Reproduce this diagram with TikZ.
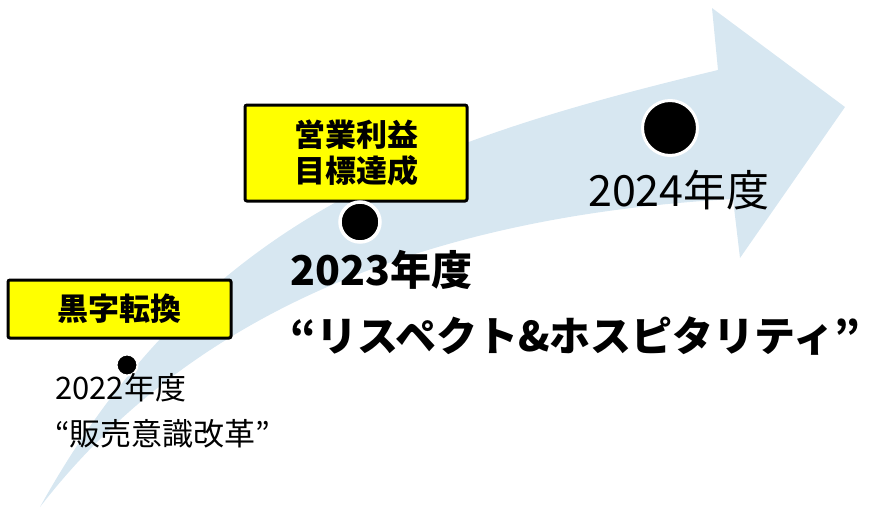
\documentclass[tikz,border=0pt]{standalone}
\usepackage{fontspec}
\setmainfont{Noto Sans CJK JP}
\definecolor{arrowblue}{RGB}{215,231,241}
\definecolor{boxyellow}{RGB}{255,255,0}
\tikzset{
  ybox/.style={draw=black, fill=boxyellow, line width=3, rounded corners=2, inner sep=0, align=center, font=\bfseries\fontsize{31}{36}\selectfont},
  dotc/.style={circle, fill=black, draw=white, inner sep=0},
  txt/.style={inner sep=0, anchor=base west, align=left},
}
\begin{document}
\begin{tikzpicture}[x=1pt,y=-1pt]
\useasboundingbox (0,0) rectangle (873,507);
% big curved arrow
\fill[arrowblue] (40,507) .. controls (200,219) and (418,142) .. (718,70)
  -- (712,8) -- (845,107) -- (740,258) -- (733,199)
  .. controls (450,215) and (200,300) .. (40,507) -- cycle;
% boxes
\node[ybox, align=none, minimum width=223, minimum height=58, text height=26.5pt, text depth=4.5pt] (b1) at (119.5,309) {黒字転換};
\node[ybox, minimum width=222, minimum height=96] (b2) at (356,153) {営業利益\\目標達成};
% dots
\node[dotc, minimum size=21, line width=2] (d1) at (127,365) {};
\node[dotc, minimum size=40, line width=3.5] (d2) at (360,222) {};
\node[dotc, minimum size=55, line width=3] (d3) at (670,128) {};
% texts
\node[txt, font=\fontsize{31}{46}\selectfont] (t1) at (55,445) {2022年度\\“販売意識改革”};
\node[txt, font=\bfseries\fontsize{41}{66}\selectfont] (t2) at (290,351) {2023年度\\“リスペクト\&ホスピタリティ”};
\node[txt, font=\fontsize{43}{50}\selectfont] (t3) at (588,206) {2024年度};
\end{tikzpicture}
\end{document}
